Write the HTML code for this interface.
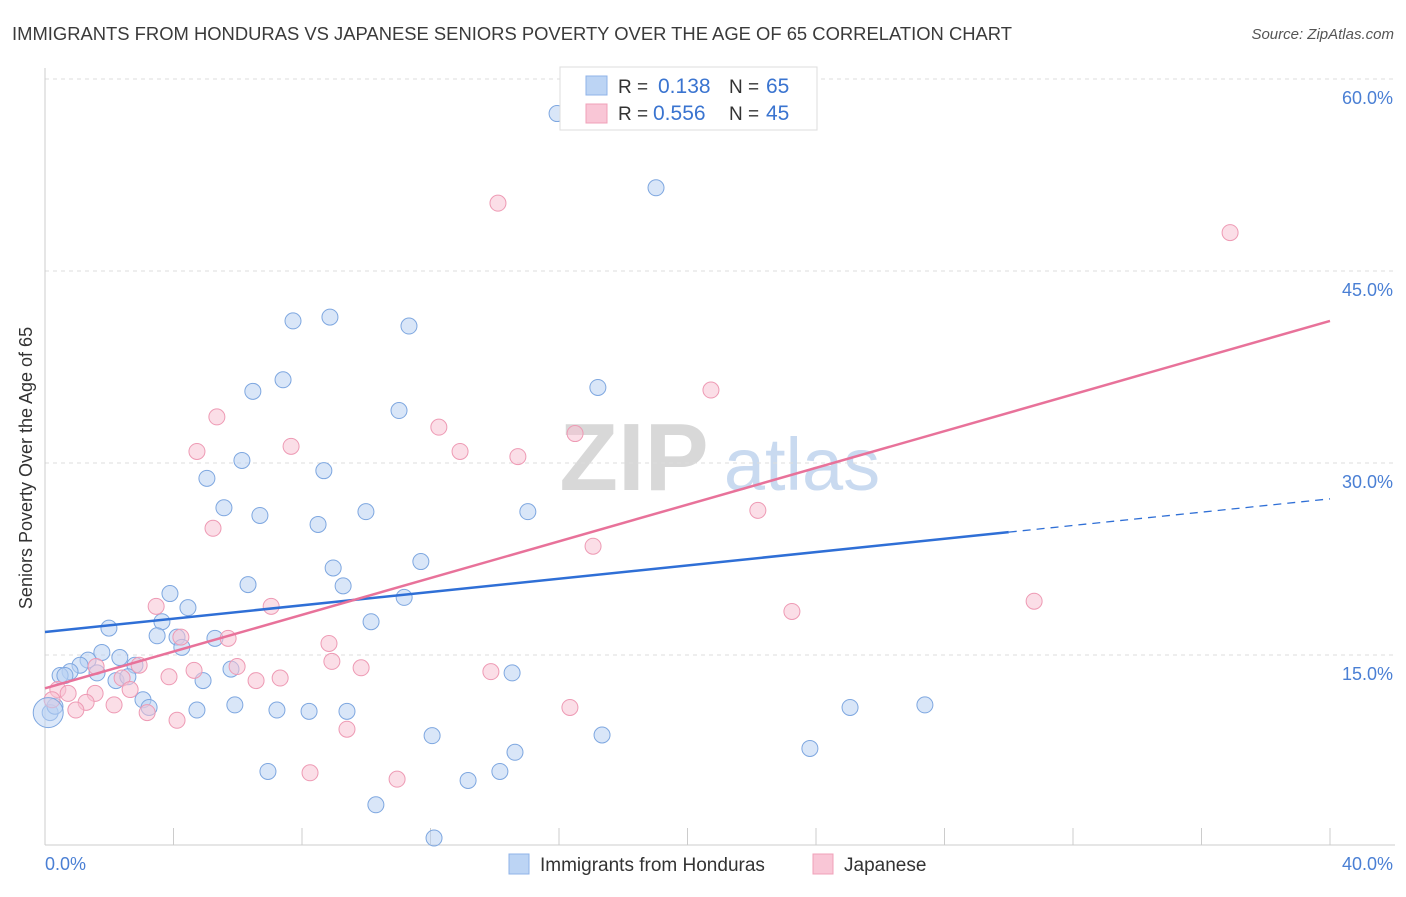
<!DOCTYPE html>
<html><head><meta charset="utf-8"><style>
body{margin:0;background:#fff;font-family:"Liberation Sans",sans-serif}
svg text{font-family:"Liberation Sans",sans-serif}
</style></head><body>
<svg id="chart" width="1406" height="892" xmlns="http://www.w3.org/2000/svg">
<text x="12" y="40" font-size="18" fill="#3a3a3a" textLength="1000" lengthAdjust="spacingAndGlyphs">IMMIGRANTS FROM HONDURAS VS JAPANESE SENIORS POVERTY OVER THE AGE OF 65 CORRELATION CHART</text>
<text x="1394" y="39" font-size="15" fill="#555" font-style="italic" text-anchor="end">Source: ZipAtlas.com</text>
<g>
<text x="634" y="490" font-size="96" font-family="Liberation Serif" fill="#d8d8d8" text-anchor="middle" font-weight="bold">ZIP</text>
<text x="802" y="490" font-size="74" fill="#c9daf0" text-anchor="middle">atlas</text>
</g>
<g id="grid"></g>
<g id="axes"></g>
<g id="pts"></g>
<g id="lines"></g>
<text x="20" y="456" font-size="18" fill="#333" transform="rotate(-90 32 456)" text-anchor="middle">Seniors Poverty Over the Age of 65</text>
<g>
<rect x="560" y="67" width="257" height="63" fill="#fff" stroke="#ddd"/>
<rect x="586" y="76" width="21" height="19" fill="#bcd4f4" stroke="#8fb3e8"/>
<rect x="586" y="104" width="21" height="19" fill="#f9c6d6" stroke="#f0a0b8"/>
<text x="618" y="93" font-size="19" fill="#333">R =</text><text x="658" y="93" font-size="21" fill="#3a74d0">0.138</text>
<text x="729" y="93" font-size="19" fill="#333">N =</text><text x="766" y="93" font-size="21" fill="#3a74d0">65</text>
<text x="618" y="120" font-size="19" fill="#333">R =</text><text x="653" y="120" font-size="21" fill="#3a74d0">0.556</text>
<text x="729" y="120" font-size="19" fill="#333">N =</text><text x="766" y="120" font-size="21" fill="#3a74d0">45</text>
</g>
<g>
<rect x="509" y="854" width="20" height="20" fill="#bcd4f4" stroke="#8fb3e8"/>
<text x="540" y="871" font-size="19" fill="#333">Immigrants from Honduras</text>
<rect x="813" y="854" width="20" height="20" fill="#f9c6d6" stroke="#f0a0b8"/>
<text x="844" y="871" font-size="19" fill="#333">Japanese</text>
</g>
</svg>
<script>
const xTicks=[0,40];
const yTicks=[15,30,45,60];
const blueX=[15.94,19.02,7.72,8.87,11.33,7.41,6.47,17.21,11.02,6.13,8.68,5.04,5.57,6.69,9.99,15.03,8.50,11.70,8.97,6.32,9.28,11.18,3.89,4.45,10.15,1.99,3.64,3.49,4.11,4.26,5.29,1.77,1.34,2.33,1.09,0.78,0.47,1.62,2.80,2.21,2.58,5.79,4.92,14.54,3.05,3.24,4.73,5.91,7.22,8.22,9.40,25.06,27.39,12.05,17.34,14.63,23.81,6.94,14.16,13.17,10.30,12.11,0.16,0.31,0.62];
const blueY=[57.3,51.5,41.1,41.4,40.7,36.5,35.6,35.9,34.1,30.2,29.4,28.8,26.5,25.9,26.2,26.2,25.2,22.3,21.8,20.5,20.4,19.5,19.8,18.7,17.6,17.1,17.6,16.5,16.4,15.6,16.3,15.2,14.6,14.8,14.2,13.7,13.4,13.6,14.2,13.0,13.3,13.9,13.0,13.6,11.5,10.9,10.7,11.1,10.7,10.6,10.6,10.9,11.1,8.7,8.75,7.4,7.7,5.9,5.9,5.2,3.3,0.7,10.5,11.0,13.4];
const pinkX=[14.10,36.89,16.50,20.73,5.35,12.26,7.66,4.73,12.92,14.72,5.23,22.19,17.06,3.46,7.04,23.25,30.79,4.23,5.70,8.84,8.93,9.84,2.93,4.64,5.98,13.88,3.86,6.57,7.32,1.59,2.40,0.40,0.72,1.56,2.65,1.28,2.15,0.96,3.18,4.11,16.34,9.40,8.25,10.96,0.22];
const pinkY=[50.3,48.0,32.3,35.7,33.6,32.8,31.3,30.9,30.9,30.5,24.9,26.3,23.5,18.8,18.8,18.4,19.2,16.4,16.3,15.9,14.5,14.0,14.2,13.8,14.1,13.7,13.3,13.0,13.2,14.1,13.2,12.3,12.0,12.0,12.3,11.3,11.1,10.7,10.5,9.9,10.9,9.2,5.8,5.3,11.5];
const blueTrend=[16.8,27.2];
const pinkTrend=[12.4,41.1];
const NS="http://www.w3.org/2000/svg";
const X=v=>45+v*32.125, Y=v=>847-v*12.8;
function mk(t,a,p){const e=document.createElementNS(NS,t);for(const k in a)e.setAttribute(k,a[k]);document.getElementById(p).appendChild(e);return e;}
yTicks.forEach(t=>{
 const g=mk('line',{x1:45,x2:1395,y1:Y(t),y2:Y(t),stroke:'#ddd','stroke-dasharray':'4,4'},'grid');
 
 
 const l=mk('text',{x:1393,y:Y(t)+25,'font-size':18,fill:'#4a7fd4','text-anchor':'end'},'axes');
 l.textContent=t.toFixed(1)+'%';
 
 
});
mk('line',{x1:45,x2:45,y1:68,y2:845,stroke:'#ccc'},'axes');
mk('line',{x1:45,x2:1395,y1:845,y2:845,stroke:'#ccc'},'axes');
for(let i=0;i<=10;i++){mk('line',{x1:X(i*4),x2:X(i*4),y1:828,y2:845,stroke:'#ccc'},'axes');}
xTicks.forEach((t,i)=>{
 const l=mk('text',{x:i?1393:45,y:870,'font-size':18,fill:'#4a7fd4','text-anchor':i?'end':'start'},'axes');
 l.textContent=t.toFixed(1)+'%';
 
 
});
function dots(xs,ys,fill,stroke,name){xs.forEach((x,i)=>{
 const c=mk('circle',{cx:X(x),cy:Y(ys[i]),r:8,fill:fill,'fill-opacity':0.55,stroke:stroke,'stroke-width':1},'pts');
 
 
});}
dots(blueX,blueY,'#b9d2f3','#7ea7e0','honduras-point');
dots(pinkX,pinkY,'#f8c3d3','#ee9ab4','japanese-point');
const bc=mk('circle',{cx:X(0.1),cy:Y(10.5),r:15,fill:'#b9d2f3','fill-opacity':0.5,stroke:'#7ea7e0'},'pts');


const bx=30;
const bl=mk('line',{x1:X(0),y1:Y(blueTrend[0]),x2:X(bx),y2:Y(blueTrend[0]+(blueTrend[1]-blueTrend[0])*bx/40),stroke:'#2f6fd6','stroke-width':2.5},'lines');


const bd=mk('line',{x1:X(bx),y1:Y(blueTrend[0]+(blueTrend[1]-blueTrend[0])*bx/40),x2:X(40),y2:Y(blueTrend[1]),stroke:'#2f6fd6','stroke-width':1.3,'stroke-dasharray':'8,6'},'lines');


const pl=mk('line',{x1:X(0),y1:Y(pinkTrend[0]),x2:X(40),y2:Y(pinkTrend[1]),stroke:'#e8729a','stroke-width':2.5},'lines');


</script>
</body></html>
